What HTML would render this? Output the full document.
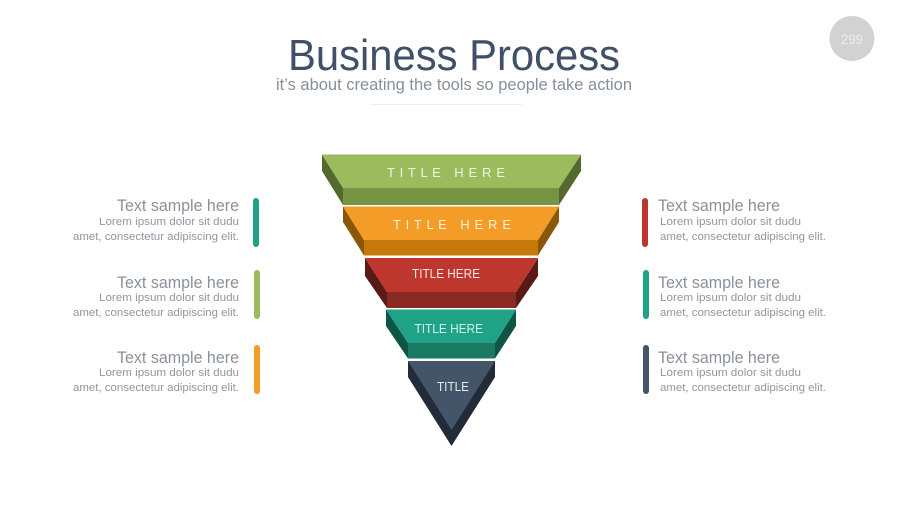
<!DOCTYPE html>
<html>
<head>
<meta charset="utf-8">
<style>
html,body{margin:0;padding:0;background:#fff;width:900px;height:506px;overflow:hidden}
svg{display:block}
text{font-family:"Liberation Sans",sans-serif}
.h{font-size:16.5px;fill:#8a919b}
.b{font-size:11.2px;fill:#90969f}
.t{font-size:13px}
</style>
</head>
<body>
<svg width="900" height="506" viewBox="0 0 900 506" xmlns="http://www.w3.org/2000/svg">
<rect width="900" height="506" fill="#fff"/>

<!-- header -->
<text x="288" y="70" font-size="43.5" fill="#3f5068" textLength="332" lengthAdjust="spacingAndGlyphs">Business Process</text>
<text x="276" y="90" font-size="17" fill="#868f9a" textLength="356" lengthAdjust="spacingAndGlyphs">it’s about creating the tools so people take action</text>
<rect x="370" y="104" width="152" height="1" fill="#eeeeee"/>
<circle cx="852" cy="38.5" r="22.5" fill="#d2d2d2"/>
<text x="841" y="44" font-size="14" fill="#ececec" textLength="22" lengthAdjust="spacingAndGlyphs">299</text>

<!-- green -->
<polygon points="322,154.5 343,188 343,205 322,171" fill="#55692f"/>
<polygon points="581,154.5 559,188 559,205 581,171" fill="#55692f"/>
<polygon points="343,188 559,188 559,205 343,205" fill="#769443"/>
<polygon points="322,154.5 581,154.5 559,188 343,188" fill="#9bbb5c"/>
<text class="t" x="387" y="177" fill="#f0f5e2" textLength="118" lengthAdjust="spacing">T I T L E &#160;&#160;H E R E</text>

<!-- orange -->
<polygon points="343,206.5 364,240 364,255.5 343,222" fill="#8a5704"/>
<polygon points="559,206.5 538,240 538,255.5 559,222" fill="#8a5704"/>
<polygon points="364,240 538,240 538,255.5 364,255.5" fill="#c5790b"/>
<polygon points="343,206.5 559,206.5 538,240 364,240" fill="#f39c28"/>
<text class="t" x="393" y="229" fill="#fdf0d5" textLength="118" lengthAdjust="spacing">T I T L E &#160;&#160;H E R E</text>

<!-- red -->
<polygon points="365,258 387,292 387,308 365,276" fill="#5a1b16"/>
<polygon points="538,258 516,292 516,308 538,276" fill="#5a1b16"/>
<polygon points="387,292 516,292 516,308 387,308" fill="#892b23"/>
<polygon points="365,258 538,258 516,292 387,292" fill="#bd372f"/>
<text class="t" x="412" y="278" fill="#fbe7e3" textLength="68" lengthAdjust="spacingAndGlyphs">TITLE HERE</text>

<!-- teal -->
<polygon points="386,309.5 408,343 408,358.5 386,326" fill="#0e5545"/>
<polygon points="516,309.5 495,343 495,358.5 516,326" fill="#0e5545"/>
<polygon points="408,343 495,343 495,358.5 408,358.5" fill="#1b7a64"/>
<polygon points="386,309.5 516,309.5 495,343 408,343" fill="#1fa285"/>
<text class="t" x="414.5" y="333" fill="#c9f5ea" textLength="68.5" lengthAdjust="spacingAndGlyphs">TITLE HERE</text>

<!-- navy -->
<polygon points="408,361 495,361 495,377 451.5,446 408,377" fill="#222b38"/>
<polygon points="408,361 495,361 451.5,430" fill="#445569"/>
<text class="t" x="437" y="391" fill="#e6eaee" textLength="32" lengthAdjust="spacingAndGlyphs">TITLE</text>

<!-- left bars -->
<rect x="253" y="198" width="6" height="49" rx="3" fill="#1fa285"/>
<rect x="254" y="270" width="6" height="49" rx="3" fill="#9bbb5c"/>
<rect x="254" y="345" width="6" height="49" rx="3" fill="#f39c28"/>

<!-- right bars -->
<rect x="642" y="198" width="6" height="49" rx="3" fill="#bd372f"/>
<rect x="643" y="270" width="6" height="49" rx="3" fill="#1fa285"/>
<rect x="643" y="345" width="6" height="49" rx="3" fill="#445569"/>

<!-- left text -->
<text class="h" x="117" y="211" textLength="122" lengthAdjust="spacingAndGlyphs">Text sample here</text>
<text class="b" x="99" y="225" textLength="140" lengthAdjust="spacingAndGlyphs">Lorem ipsum dolor sit dudu</text>
<text class="b" x="73" y="240" textLength="166" lengthAdjust="spacingAndGlyphs">amet, consectetur adipiscing elit.</text>

<text class="h" x="117" y="288" textLength="122" lengthAdjust="spacingAndGlyphs">Text sample here</text>
<text class="b" x="99" y="301" textLength="140" lengthAdjust="spacingAndGlyphs">Lorem ipsum dolor sit dudu</text>
<text class="b" x="73" y="316" textLength="166" lengthAdjust="spacingAndGlyphs">amet, consectetur adipiscing elit.</text>

<text class="h" x="117" y="363" textLength="122" lengthAdjust="spacingAndGlyphs">Text sample here</text>
<text class="b" x="99" y="376" textLength="140" lengthAdjust="spacingAndGlyphs">Lorem ipsum dolor sit dudu</text>
<text class="b" x="73" y="391" textLength="166" lengthAdjust="spacingAndGlyphs">amet, consectetur adipiscing elit.</text>

<!-- right text -->
<text class="h" x="658" y="211" textLength="122" lengthAdjust="spacingAndGlyphs">Text sample here</text>
<text class="b" x="660" y="225" textLength="141" lengthAdjust="spacingAndGlyphs">Lorem ipsum dolor sit dudu</text>
<text class="b" x="660" y="240" textLength="166" lengthAdjust="spacingAndGlyphs">amet, consectetur adipiscing elit.</text>

<text class="h" x="658" y="288" textLength="122" lengthAdjust="spacingAndGlyphs">Text sample here</text>
<text class="b" x="660" y="301" textLength="141" lengthAdjust="spacingAndGlyphs">Lorem ipsum dolor sit dudu</text>
<text class="b" x="660" y="316" textLength="166" lengthAdjust="spacingAndGlyphs">amet, consectetur adipiscing elit.</text>

<text class="h" x="658" y="363" textLength="122" lengthAdjust="spacingAndGlyphs">Text sample here</text>
<text class="b" x="660" y="376" textLength="141" lengthAdjust="spacingAndGlyphs">Lorem ipsum dolor sit dudu</text>
<text class="b" x="660" y="391" textLength="166" lengthAdjust="spacingAndGlyphs">amet, consectetur adipiscing elit.</text>
</svg>
</body>
</html>
